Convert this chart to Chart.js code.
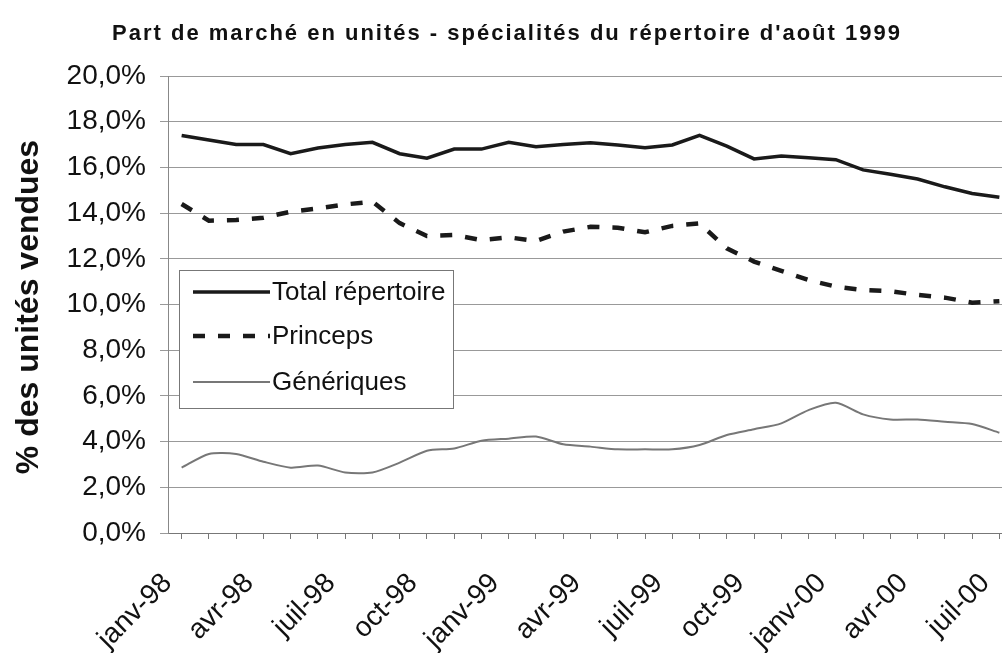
<!DOCTYPE html>
<html>
<head>
<meta charset="utf-8">
<script src="https://cdn.jsdelivr.net/npm/chart.js@4/dist/chart.umd.min.js"></script>
<style>
  html, body { margin:0; padding:0; background:#fff; overflow:hidden; }
  #wrap { width:1002px; height:653px; position:relative; overflow:hidden; }
</style>
</head>
<body>
<div id="wrap"><canvas id="c" width="1013" height="653"></canvas></div>
<script>
// ====== Données ======
const MONTHS = ['janv','févr','mars','avr','mai','juin','juil','août','sept','oct','nov','déc'];
const labels = [];
for (let y = 98; y <= 100; y++){
  for (let m = 0; m < 12; m++){
    if (y === 100 && m > 6) break;
    labels.push(MONTHS[m] + '-' + String(y % 100).padStart(2,'0'));
  }
}

const totalRepertoire = [17.4,17.2,17.0,17.0,16.6,16.85,17.0,17.1,16.6,16.4,16.8,16.8,17.1,16.9,17.0,
  17.08,16.98,16.86,16.98,17.4,16.93,16.37,16.5,16.42,16.34,15.89,15.7,15.49,15.15,14.86,14.69];
const princeps = [14.4,13.67,13.7,13.8,14.06,14.2,14.38,14.5,13.56,13.0,13.04,12.82,12.94,12.78,13.19,
  13.4,13.36,13.16,13.44,13.55,12.46,11.88,11.47,11.07,10.78,10.63,10.58,10.42,10.3,10.08,10.14];
const generiques = [2.86,3.46,3.46,3.12,2.86,2.95,2.65,2.65,3.08,3.6,3.7,4.04,4.13,4.22,3.88,
  3.78,3.66,3.66,3.66,3.85,4.29,4.54,4.8,5.38,5.7,5.19,4.97,4.97,4.87,4.77,4.39];

const TITLE = "Part de marché en unités - spécialités du répertoire d'août 1999";
const Y_TITLE = '% des unités vendues';
const FONT = '"Liberation Sans", Arial, sans-serif';

// ====== Plugins ======
const titlesPlugin = {
  id: 'titles',
  afterDraw(chart){
    const ctx = chart.ctx;
    ctx.save();
    ctx.fillStyle = '#111';
    ctx.font = 'bold 22px ' + FONT;
    ctx.letterSpacing = '2px';
    ctx.textAlign = 'center';
    ctx.textBaseline = 'middle';
    ctx.fillText(TITLE, 507, 34);
    ctx.letterSpacing = '0px';
    ctx.translate(38, 307);
    ctx.rotate(-Math.PI/2);
    ctx.font = 'bold 32px ' + FONT;
    ctx.textBaseline = 'alphabetic';
    ctx.fillText(Y_TITLE, 0, 0);
    ctx.restore();
  }
};

const legendBox = {
  id: 'legendBox',
  afterDatasetsDraw(chart){
    const ctx = chart.ctx;
    const x0 = 179, y0 = 270, w = 274, h = 138;
    ctx.save();
    ctx.fillStyle = '#fff';
    ctx.fillRect(x0, y0, w, h);
    ctx.strokeStyle = '#777';
    ctx.lineWidth = 1;
    ctx.strokeRect(x0 + 0.5, y0 + 0.5, w, h);
    const rows = [292, 336, 382];
    chart.data.datasets.forEach((ds, i) => {
      const y = rows[i];
      ctx.strokeStyle = ds.borderColor;
      ctx.lineWidth = ds.borderWidth;
      ctx.setLineDash(ds.borderDash || []);
      ctx.beginPath();
      ctx.moveTo(193, y);
      ctx.lineTo(270, y);
      ctx.stroke();
      ctx.setLineDash([]);
      ctx.fillStyle = '#111';
      ctx.font = '26px ' + FONT;
      ctx.textAlign = 'left';
      ctx.textBaseline = 'middle';
      ctx.fillText(ds.label, 272, y + 1);
    });
    ctx.restore();
  }
};

// ====== Graphique ======
new Chart(document.getElementById('c'), {
  type: 'line',
  data: {
    labels,
    datasets: [
      { label: 'Total répertoire', data: totalRepertoire, borderColor: '#1a1a1a', borderWidth: 3.5, pointRadius: 0, tension: 0 },
      { label: 'Princeps', data: princeps, borderColor: '#1a1a1a', borderWidth: 4.5, borderDash: [12,13], pointRadius: 0, tension: 0 },
      { label: 'Génériques', data: generiques, borderColor: '#777', borderWidth: 2, pointRadius: 0, tension: 0.25 }
    ]
  },
  options: {
    responsive: false,
    animation: false,
    layout: { padding: { top: 76, right: 0, bottom: 0, left: 0 } },
    plugins: { legend: { display: false }, tooltip: { enabled: false }, title: { display: false } },
    scales: {
      x: {
        offset: true,
        grid: { drawOnChartArea: false, drawTicks: true, tickLength: 6, color: '#777' },
        border: { color: '#777', width: 1 },
        ticks: {
          autoSkip: false, maxRotation: 45, minRotation: 45, padding: 28, labelOffset: -14,
          color: '#111',
          font: { family: FONT, size: 28 },
          callback(v, i){ return i % 3 === 0 ? labels[i] : ''; }
        },
        afterFit(s){ s.height = 120; s.paddingLeft = 0; s.paddingRight = 0; }
      },
      y: {
        min: 0, max: 20,
        grid: { color: '#999', lineWidth: 1, tickLength: 8 },
        border: { color: '#888', width: 1 },
        ticks: {
          stepSize: 2, padding: 14, color: '#111',
          font: { family: FONT, size: 28 },
          callback(v){ return v.toFixed(1).replace('.', ',') + '%'; }
        },
        afterFit(s){ s.width = 168; }
      }
    }
  },
  plugins: [titlesPlugin, legendBox]
});
</script>
</body>
</html>
